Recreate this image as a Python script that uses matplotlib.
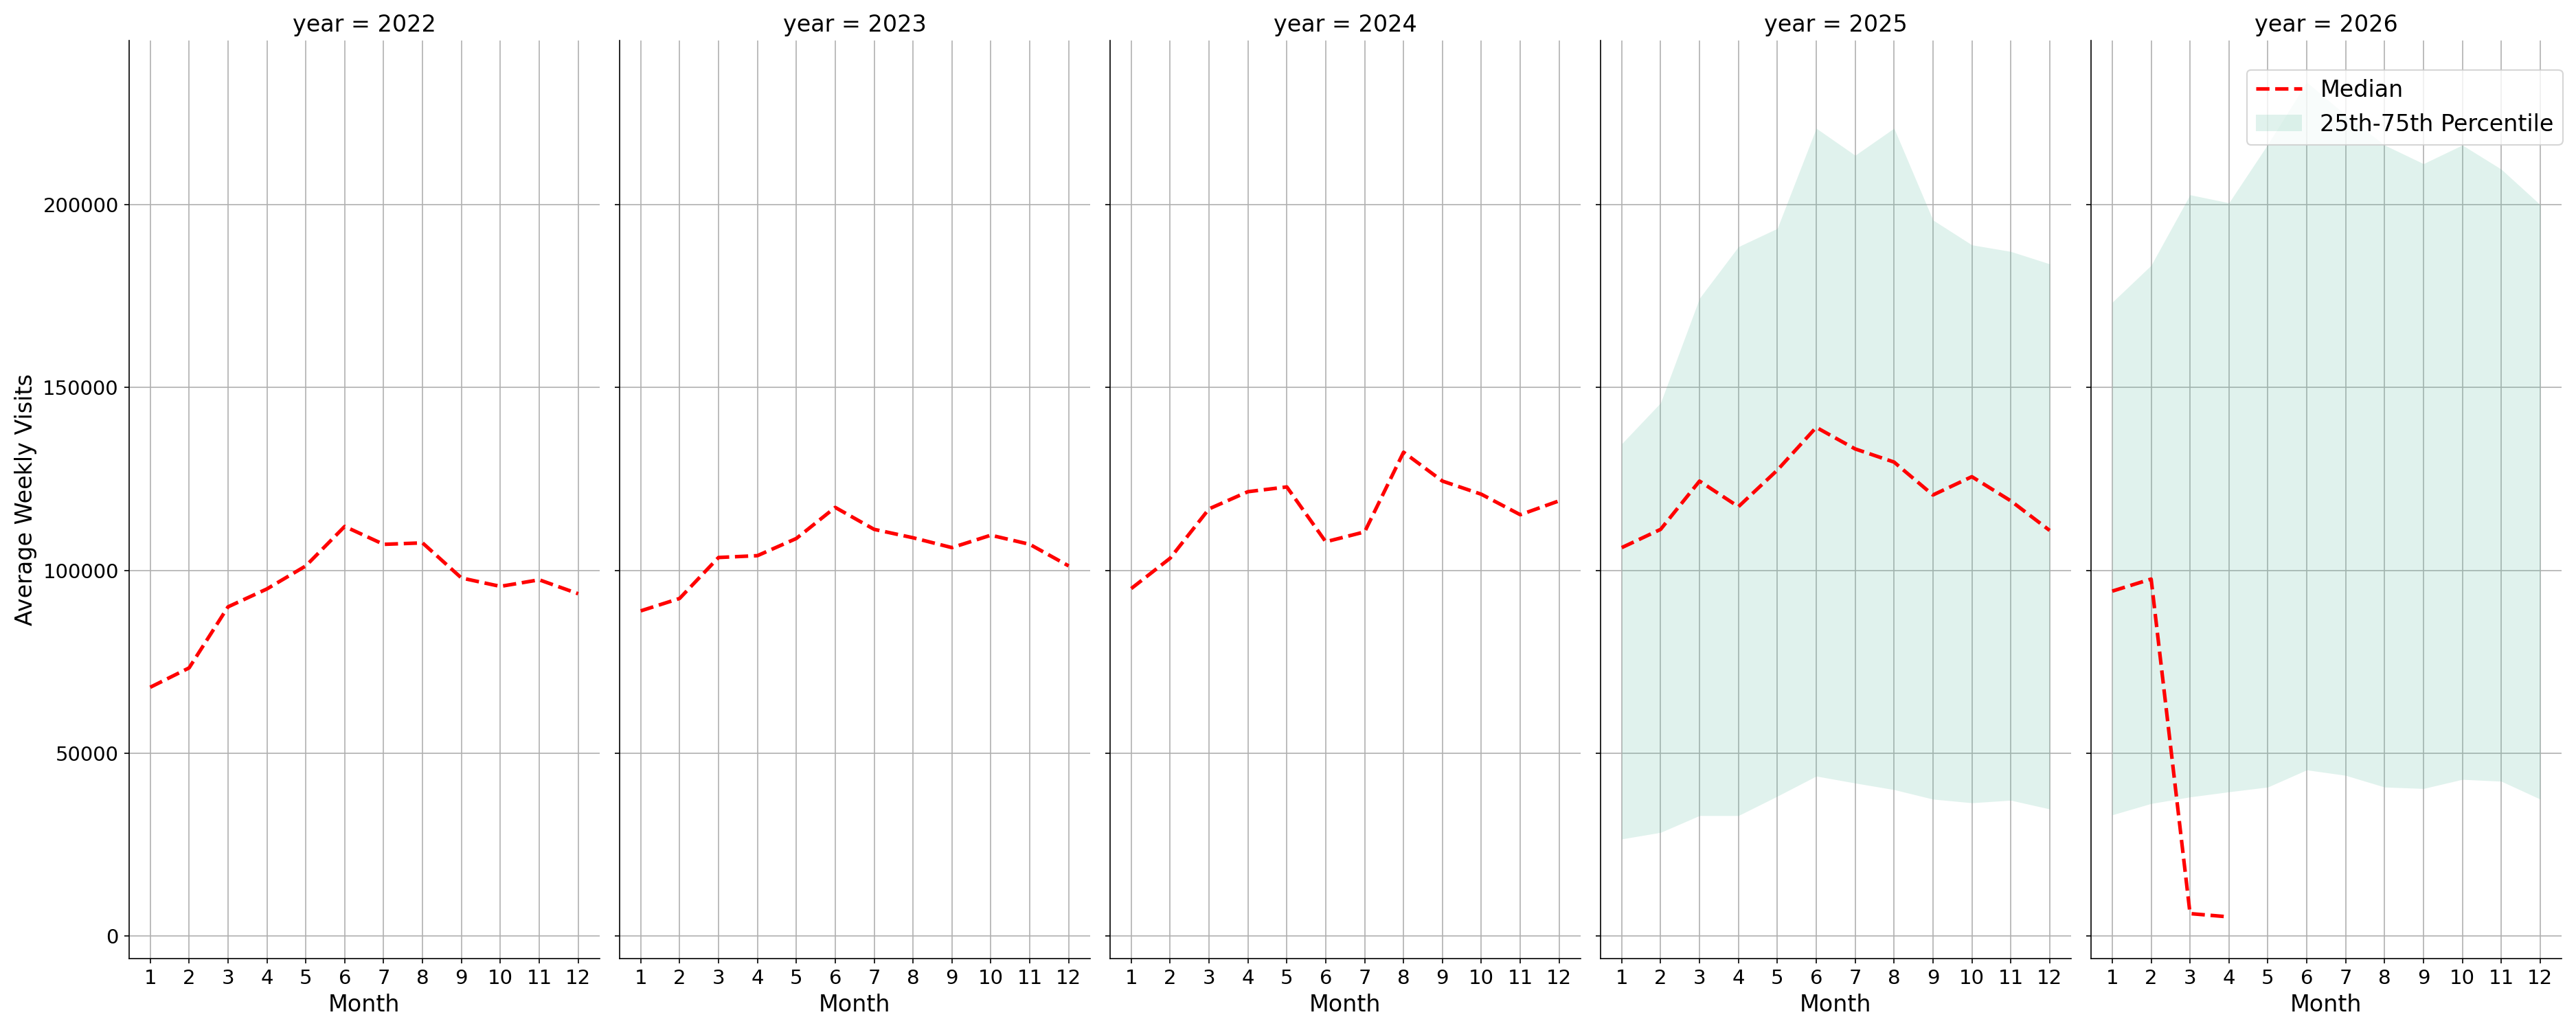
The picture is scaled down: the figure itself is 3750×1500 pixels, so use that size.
import numpy as np
import matplotlib
matplotlib.use('Agg')
import matplotlib.pyplot as plt

# months and years shown in the facets
months = list(range(1, 13))
years = [2022, 2023, 2024, 2025, 2026]

# median weekly visits per month
median_2022 = [68000, 73300, 90000, 94900, 101200, 112000, 107100, 107500, 97900, 95600, 97400, 93600]
median_2023 = [88900, 92300, 103500, 104000, 108700, 117200, 111200, 108900, 106200, 109600, 107100, 101200]
median_2024 = [95000, 103300, 116800, 121500, 122800, 107800, 110500, 132300, 124400, 120800, 115200, 119000]
median_2025 = [106200, 111200, 124400, 117400, 127400, 139100, 133200, 129600, 120600, 125600, 119000, 110900]
median_2026 = [94300, 97600, 6100, 5200]

# 25th / 75th percentile band (only 2025 and 2026 have it)
p25_2025 = [26500, 28300, 32900, 32900, 38200, 43700, 41800, 40000, 37400, 36400, 37100, 34700]
p75_2025 = [134600, 145800, 174400, 188500, 193500, 220900, 213500, 220900, 195800, 189000, 187200, 183800]
p25_2026 = [33100, 36200, 38000, 39400, 40700, 45400, 43900, 40700, 40300, 42800, 42300, 37400]
p75_2026 = [173300, 183400, 202700, 200500, 216500, 233500, 224500, 216300, 211200, 216300, 209700, 200000]

medians = {2022: median_2022, 2023: median_2023, 2024: median_2024,
           2025: median_2025, 2026: median_2026}
bands = {2025: (p25_2025, p75_2025), 2026: (p25_2026, p75_2026)}

fig, axes = plt.subplots(1, 5, sharey=True, figsize=(25, 10), dpi=150)
fig.subplots_adjust(left=0.05, right=0.9944, top=0.9607, bottom=0.0693, wspace=0.042)

for ax, yr in zip(axes, years):
    ax.set_axisbelow(True)
    ax.grid(True)
    if yr in bands:
        lo, hi = bands[yr]
        ax.fill_between(months, lo, hi, color='#66c2a5', alpha=0.2, linewidth=0,
                        label='25th-75th Percentile')
    med = medians[yr]
    ax.plot(months[:len(med)], med, color='red', linestyle='--', linewidth=2.5, label='Median')
    ax.set_title(f'year = {yr}', fontsize=16)
    ax.set_xlabel('Month', fontsize=16)
    ax.set_xticks(months)
    ax.tick_params(labelsize=14)
    ax.spines['top'].set_visible(False)
    ax.spines['right'].set_visible(False)

axes[0].set_ylabel('Average Weekly Visits', fontsize=16)
axes[0].set_yticks([0, 50000, 100000, 150000, 200000])

handles, labels = axes[-1].get_legend_handles_labels()
order = [labels.index('Median'), labels.index('25th-75th Percentile')]
axes[-1].legend([handles[i] for i in order], [labels[i] for i in order],
                loc='upper right', bbox_to_anchor=(1.003, 0.968), borderaxespad=0,
                fontsize=16)

plt.savefig('out.png')
